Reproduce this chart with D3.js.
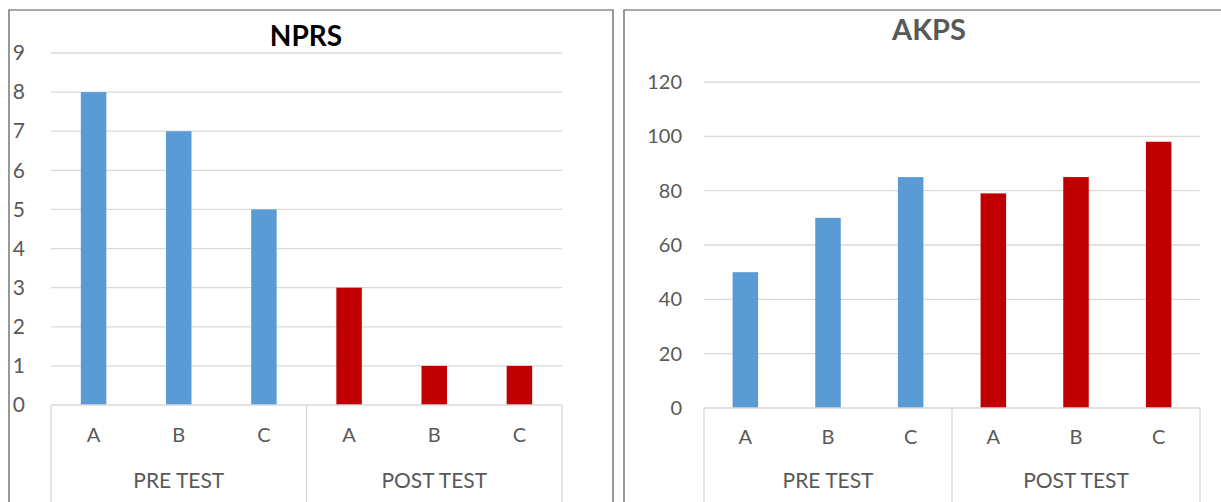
<!DOCTYPE html>
<html><head><meta charset="utf-8">
<script src="https://cdn.jsdelivr.net/npm/d3@7"></script>
<style>body{margin:0;background:#fff;}svg{display:block;font-family:Lato,"Open Sans",sans-serif;}</style>
</head><body>
<svg id="c" width="1221" height="502"></svg>
<script>
const groups = ["PRE TEST", "POST TEST"];
const subCats = ["A", "B", "C"];
const nprsPre = [8, 7, 5];
const nprsPost = [3, 1, 1];
const akpsPre = [50, 70, 85];
const akpsPost = [79, 85, 98];
const nprsTicks = [0,1,2,3,4,5,6,7,8,9];
const akpsTicks = [0,20,40,60,80,100,120];
const colors = {"PRE TEST": "#5B9BD5", "POST TEST": "#C00000"};

const svg = d3.select("#c");

function panel(cfg) {
  const g = svg.append("g");
  g.append("path").attr("d", cfg.border).attr("fill","none").attr("stroke","#555").attr("stroke-width",1.2);
  const data = [];
  groups.forEach((gr, gi) => subCats.forEach((c, ci) => data.push({key: gr + "|" + c, group: gr, cat: c, v: (gi===0?cfg.pre:cfg.post)[ci]})));
  const x = d3.scaleBand().domain(data.map(d=>d.key)).range([cfg.x0, cfg.x1]).paddingInner(0).paddingOuter(0);
  const y = d3.scaleLinear().domain([0, cfg.max]).range([cfg.y0, cfg.y1]);
  g.append("g").selectAll("line").data(cfg.ticks.slice(1)).join("line")
    .attr("x1", cfg.x0).attr("x2", cfg.x1).attr("y1", d=>y(d)).attr("y2", d=>y(d))
    .attr("stroke","#D9D9D9").attr("stroke-width",1.3);
  const ya = d3.axisLeft(y).tickValues(cfg.ticks).tickSize(0).tickPadding(0);
  const yg = g.append("g").attr("transform", `translate(${cfg.labelX},0)`).call(ya);
  yg.select(".domain").remove();
  yg.selectAll("text").attr("fill","#595959").attr("font-size", cfg.tickSize).attr("font-family","Lato,'Open Sans',sans-serif");
  const bw = 25.5;
  g.append("g").selectAll("rect").data(data).join("rect")
    .attr("x", d=>x(d.key)+x.bandwidth()/2-bw/2).attr("width", bw)
    .attr("y", d=>y(d.v)).attr("height", d=>y(0)-y(d.v))
    .attr("fill", d=>colors[d.group]);
  g.append("line").attr("x1",cfg.x0).attr("x2",cfg.x1).attr("y1",y(0)).attr("y2",y(0)).attr("stroke","#D9D9D9").attr("stroke-width",1.3);
  const sepX = [cfg.x0, x(groups[1]+"|A"), cfg.x1];
  g.append("g").selectAll("line").data(sepX).join("line")
    .attr("x1",d=>d).attr("x2",d=>d).attr("y1",y(0)).attr("y2",502)
    .attr("stroke","#D9D9D9").attr("stroke-width",1.3);
  g.append("g").selectAll("text").data(data).join("text")
    .attr("x", d=>x(d.key)+x.bandwidth()/2).attr("y", cfg.catY)
    .attr("text-anchor","middle").attr("fill","#595959").attr("font-size",20).text(d=>d.cat);
  g.append("g").selectAll("text").data(groups).join("text")
    .attr("x", gr => (x(gr+"|A") + x(gr+"|C") + x.bandwidth())/2).attr("y", cfg.grpY)
    .attr("text-anchor","middle").attr("fill","#595959").attr("font-size",21).text(d=>d);
  g.append("text").attr("x", cfg.titleX).attr("y", cfg.titleY).attr("text-anchor","middle")
    .attr("font-weight","bold").attr("font-size",cfg.titleSize).attr("fill",cfg.titleColor).text(cfg.title);
}

panel({border:"M9,502 V10 H613 V502", pre:nprsPre, post:nprsPost, max:9, ticks:nprsTicks,
  x0:51, x1:562, y0:405, y1:53, labelX:25, tickSize:21, catY:442, grpY:488,
  title:"NPRS", titleX:306, titleY:46, titleSize:28, titleColor:"#000"});
panel({border:"M624,502 V10 H1221", pre:akpsPre, post:akpsPost, max:120, ticks:akpsTicks,
  x0:704, x1:1200, y0:408, y1:82, labelX:682, tickSize:20, catY:444, grpY:488,
  title:"AKPS", titleX:929, titleY:40, titleSize:29, titleColor:"#595959"});
</script>
</body></html>
